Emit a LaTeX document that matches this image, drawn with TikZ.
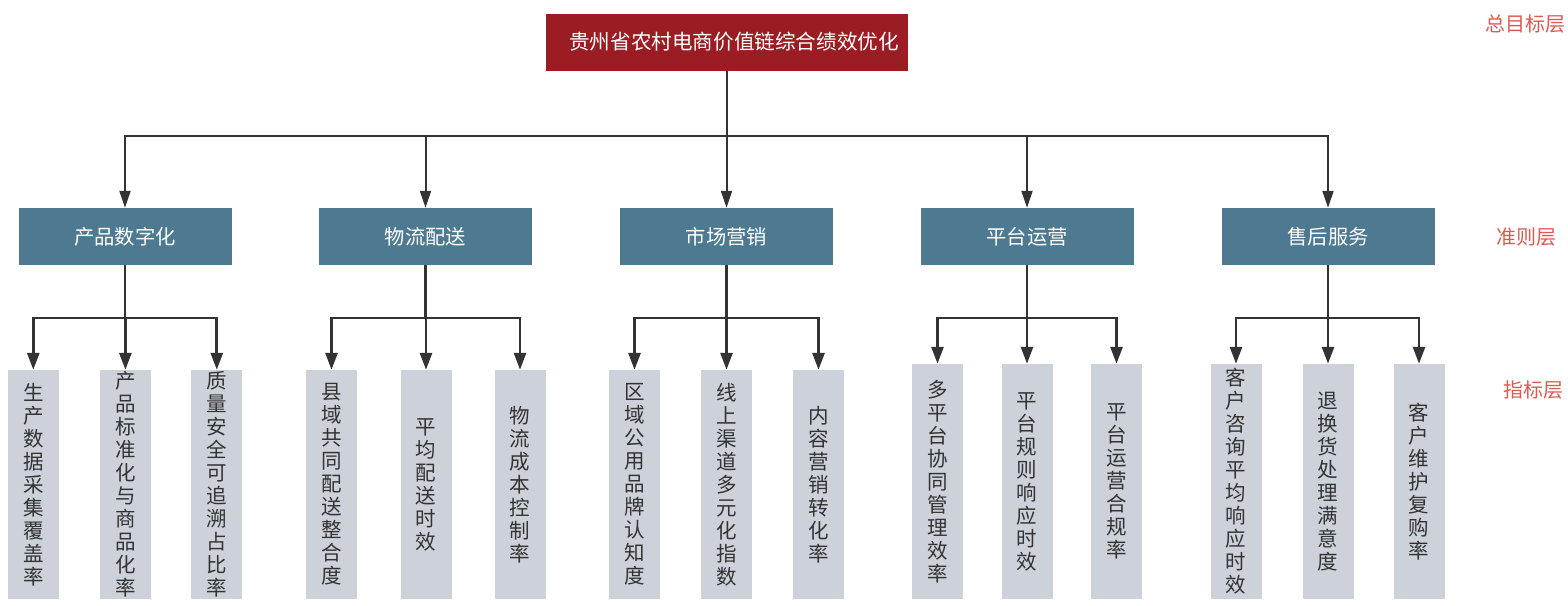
\documentclass[tikz,border=0pt]{standalone}
\usepackage{fontspec}
\newfontfamily\cjk{Noto Sans CJK SC}
\usetikzlibrary{arrows.meta,calc}
\definecolor{goalred}{HTML}{9B1D23}
\definecolor{catblue}{HTML}{4E7A91}
\definecolor{leafgray}{HTML}{CDD1DA}
\definecolor{lblred}{HTML}{DD5A52}
\definecolor{linegray}{HTML}{333333}
\tikzset{
  goalbox/.style={fill=goalred, draw=none, minimum width=362pt, minimum height=57pt, inner sep=0pt, text=white, font=\cjk\fontsize{20.6}{24}\selectfont},
  catbox/.style={fill=catblue, draw=none, minimum width=213pt, minimum height=57pt, inner sep=0pt, text=white, font=\cjk\fontsize{20.3}{24}\selectfont},
  leafbox/.style={fill=leafgray, draw=none, minimum width=51pt, inner sep=0pt, text=linegray, align=center, text width=51pt, font=\cjk\fontsize{20.5}{23}\selectfont},
  lbl/.style={text=lblred, inner sep=0pt, font=\cjk\fontsize{20}{24}\selectfont},
  toparr/.style={draw=linegray, line width=2pt, -{Triangle[length=17pt,width=11pt]}},
  lowarr/.style={draw=linegray, line width=2.8pt, -{Triangle[length=17pt,width=12pt]}},
}
\begin{document}
\begin{tikzpicture}[x=1pt,y=-1pt]
\useasboundingbox (0,0) rectangle (1568,605);
% goal
\node[goalbox] (goal) at (727,42) {\hspace*{14pt}贵州省农村电商价值链综合绩效优化};
% criteria
\node[catbox] (c1) at (125,236.5) {产品数字化};
\node[catbox] (c2) at (425.5,236.5) {物流配送};
\node[catbox] (c3) at (726.5,236.5) {市场营销};
\node[catbox] (c4) at (1027,236.5) {平台运营};
\node[catbox] (c5) at (1328,236.5) {售后服务};
% layer labels
\node[lbl, anchor=east] (L1) at (1566,24) {总目标层};
\node[lbl] (L2) at (1526,237) {准则层};
\node[lbl] (L3) at (1533,390) {指标层};
% leaves group 1-3 (370-599)
\node[leafbox, minimum height=229pt] (l11) at (33.3,484.5) {生\\产\\数\\据\\采\\集\\覆\\盖\\率};
\node[leafbox, minimum height=229pt] (l12) at (125.4,484.5) {产\\品\\标\\准\\化\\与\\商\\品\\化\\率};
\node[leafbox, minimum height=229pt] (l13) at (216.8,484.5) {质\\量\\安\\全\\可\\追\\溯\\占\\比\\率};
\node[leafbox, minimum height=229pt] (l21) at (331.5,484.5) {县\\域\\共\\同\\配\\送\\整\\合\\度};
\node[leafbox, minimum height=229pt] (l22) at (426,484.5) {平\\均\\配\\送\\时\\效};
\node[leafbox, minimum height=229pt] (l23) at (520,484.5) {物\\流\\成\\本\\控\\制\\率};
\node[leafbox, minimum height=229pt] (l31) at (634.5,484.5) {区\\域\\公\\用\\品\\牌\\认\\知\\度};
\node[leafbox, minimum height=229pt] (l32) at (726.5,484.5) {线\\上\\渠\\道\\多\\元\\化\\指\\数};
\node[leafbox, minimum height=229pt] (l33) at (818.5,484.5) {内\\容\\营\\销\\转\\化\\率};
% leaves group 4-5 (364-599)
\node[leafbox, minimum height=235pt] (l41) at (937.5,481.5) {多\\平\\台\\协\\同\\管\\理\\效\\率};
\node[leafbox, minimum height=235pt] (l42) at (1027,481.5) {平\\台\\规\\则\\响\\应\\时\\效};
\node[leafbox, minimum height=235pt] (l43) at (1116.5,481.5) {平\\台\\运\\营\\合\\规\\率};
\node[leafbox, minimum height=235pt] (l51) at (1236,481.5) {客\\户\\咨\\询\\平\\均\\响\\应\\时\\效};
\node[leafbox, minimum height=235pt] (l52) at (1328,481.5) {退\\换\\货\\处\\理\\满\\意\\度};
\node[leafbox, minimum height=235pt] (l53) at (1419,481.5) {客\\户\\维\\护\\复\\购\\率};
% bus coordinates
\coordinate (tb) at (0,136);
\coordinate (lb) at (0,318);
% top connectors
\foreach \c in {c1,c2,c3,c4,c5}
  \draw[toparr] (goal.south) -- (goal.south |- tb) -| (\c.north);
% lower connectors
\foreach \g in {1,2,3,4,5}{
  \foreach \k in {1,2,3}
    \draw[lowarr] (c\g.south) -- (c\g.south |- lb) -| (l\g\k.north);
}
\end{tikzpicture}
\end{document}
